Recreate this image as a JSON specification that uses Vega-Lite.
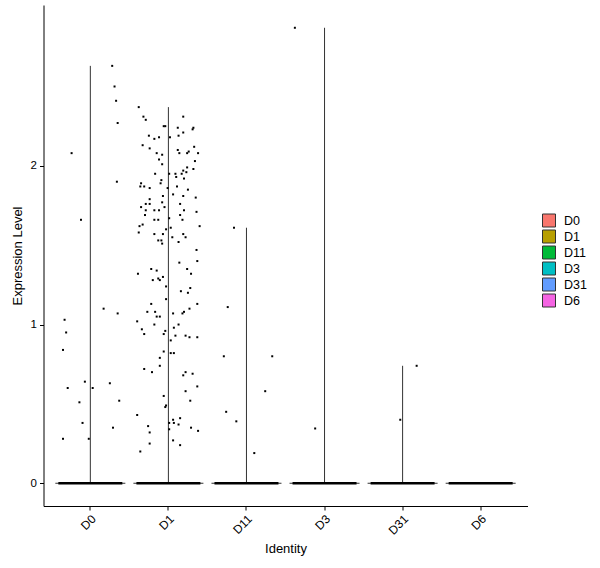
{
  "$schema": "https://vega.github.io/schema/vega-lite/v6.json",
  "width": 484,
  "height": 501,
  "autosize": "none",
  "padding": {"left": 43.5, "top": 5, "right": 72.5, "bottom": 62},
  "datasets": {
    "summary": [
      {"ident": "D0", "max": 2.63},
      {"ident": "D1", "max": 2.37},
      {"ident": "D11", "max": 1.61},
      {"ident": "D3", "max": 2.87},
      {"ident": "D31", "max": 0.74},
      {"ident": "D6", "max": 0}
    ],
    "cells": [
      {"ident": "D0", "value": 2.63, "jitter": 0.28},
      {"ident": "D0", "value": 2.50, "jitter": 0.31},
      {"ident": "D0", "value": 2.41, "jitter": 0.33},
      {"ident": "D0", "value": 2.27, "jitter": 0.35},
      {"ident": "D0", "value": 2.08, "jitter": -0.24},
      {"ident": "D0", "value": 1.90, "jitter": 0.34},
      {"ident": "D0", "value": 1.66, "jitter": -0.12},
      {"ident": "D0", "value": 1.10, "jitter": 0.17},
      {"ident": "D0", "value": 1.07, "jitter": 0.35},
      {"ident": "D0", "value": 1.03, "jitter": -0.33},
      {"ident": "D0", "value": 0.95, "jitter": -0.31},
      {"ident": "D0", "value": 0.84, "jitter": -0.35},
      {"ident": "D0", "value": 0.64, "jitter": -0.07},
      {"ident": "D0", "value": 0.60, "jitter": -0.29},
      {"ident": "D0", "value": 0.60, "jitter": 0.03},
      {"ident": "D0", "value": 0.63, "jitter": 0.25},
      {"ident": "D0", "value": 0.51, "jitter": -0.14},
      {"ident": "D0", "value": 0.52, "jitter": 0.37},
      {"ident": "D0", "value": 0.38, "jitter": -0.10},
      {"ident": "D0", "value": 0.35, "jitter": 0.29},
      {"ident": "D0", "value": 0.28, "jitter": -0.35},
      {"ident": "D0", "value": 0.28, "jitter": -0.02},
      {"ident": "D1", "value": 2.37, "jitter": -0.38},
      {"ident": "D1", "value": 2.31, "jitter": -0.32},
      {"ident": "D1", "value": 2.29, "jitter": -0.29},
      {"ident": "D1", "value": 2.31, "jitter": 0.19},
      {"ident": "D1", "value": 2.25, "jitter": -0.06},
      {"ident": "D1", "value": 2.25, "jitter": -0.04},
      {"ident": "D1", "value": 2.24, "jitter": 0.12},
      {"ident": "D1", "value": 2.24, "jitter": 0.32},
      {"ident": "D1", "value": 2.23, "jitter": 0.31},
      {"ident": "D1", "value": 2.21, "jitter": 0.19},
      {"ident": "D1", "value": 2.19, "jitter": 0.13},
      {"ident": "D1", "value": 2.19, "jitter": -0.25},
      {"ident": "D1", "value": 2.17, "jitter": -0.18},
      {"ident": "D1", "value": 2.18, "jitter": -0.12},
      {"ident": "D1", "value": 2.18, "jitter": 0.02},
      {"ident": "D1", "value": 2.13, "jitter": -0.33},
      {"ident": "D1", "value": 2.11, "jitter": -0.24},
      {"ident": "D1", "value": 2.10, "jitter": 0.12},
      {"ident": "D1", "value": 2.08, "jitter": 0.14},
      {"ident": "D1", "value": 2.09, "jitter": 0.26},
      {"ident": "D1", "value": 2.08, "jitter": 0.24},
      {"ident": "D1", "value": 2.12, "jitter": 0.33},
      {"ident": "D1", "value": 2.08, "jitter": 0.38},
      {"ident": "D1", "value": 2.08, "jitter": -0.15},
      {"ident": "D1", "value": 2.07, "jitter": -0.08},
      {"ident": "D1", "value": 2.04, "jitter": -0.12},
      {"ident": "D1", "value": 2.03, "jitter": 0.34},
      {"ident": "D1", "value": 2.01, "jitter": -0.08},
      {"ident": "D1", "value": 1.99, "jitter": 0.24},
      {"ident": "D1", "value": 1.98, "jitter": 0.32},
      {"ident": "D1", "value": 1.97, "jitter": 0.19},
      {"ident": "D1", "value": 1.96, "jitter": 0.23},
      {"ident": "D1", "value": 1.95, "jitter": -0.17},
      {"ident": "D1", "value": 1.95, "jitter": 0.01},
      {"ident": "D1", "value": 1.95, "jitter": 0.09},
      {"ident": "D1", "value": 1.95, "jitter": 0.17},
      {"ident": "D1", "value": 1.93, "jitter": 0.10},
      {"ident": "D1", "value": 1.92, "jitter": 0.20},
      {"ident": "D1", "value": 1.91, "jitter": -0.09},
      {"ident": "D1", "value": 1.89, "jitter": -0.10},
      {"ident": "D1", "value": 1.89, "jitter": -0.35},
      {"ident": "D1", "value": 1.87, "jitter": -0.36},
      {"ident": "D1", "value": 1.87, "jitter": -0.31},
      {"ident": "D1", "value": 1.86, "jitter": -0.24},
      {"ident": "D1", "value": 1.86, "jitter": -0.01},
      {"ident": "D1", "value": 1.87, "jitter": 0.11},
      {"ident": "D1", "value": 1.85, "jitter": 0.25},
      {"ident": "D1", "value": 1.82, "jitter": 0.06},
      {"ident": "D1", "value": 1.81, "jitter": -0.07},
      {"ident": "D1", "value": 1.81, "jitter": 0.19},
      {"ident": "D1", "value": 1.80, "jitter": 0.35},
      {"ident": "D1", "value": 1.79, "jitter": -0.24},
      {"ident": "D1", "value": 1.77, "jitter": -0.08},
      {"ident": "D1", "value": 1.76, "jitter": -0.29},
      {"ident": "D1", "value": 1.76, "jitter": -0.24},
      {"ident": "D1", "value": 1.76, "jitter": 0.15},
      {"ident": "D1", "value": 1.74, "jitter": -0.35},
      {"ident": "D1", "value": 1.74, "jitter": -0.05},
      {"ident": "D1", "value": 1.72, "jitter": -0.29},
      {"ident": "D1", "value": 1.72, "jitter": -0.18},
      {"ident": "D1", "value": 1.72, "jitter": -0.12},
      {"ident": "D1", "value": 1.72, "jitter": 0.20},
      {"ident": "D1", "value": 1.71, "jitter": 0.36},
      {"ident": "D1", "value": 1.69, "jitter": -0.30},
      {"ident": "D1", "value": 1.69, "jitter": 0.15},
      {"ident": "D1", "value": 1.67, "jitter": 0.01},
      {"ident": "D1", "value": 1.66, "jitter": -0.18},
      {"ident": "D1", "value": 1.66, "jitter": -0.13},
      {"ident": "D1", "value": 1.66, "jitter": 0.18},
      {"ident": "D1", "value": 1.63, "jitter": -0.33},
      {"ident": "D1", "value": 1.62, "jitter": -0.37},
      {"ident": "D1", "value": 1.60, "jitter": -0.03},
      {"ident": "D1", "value": 1.61, "jitter": 0.03},
      {"ident": "D1", "value": 1.62, "jitter": 0.40},
      {"ident": "D1", "value": 1.58, "jitter": -0.38},
      {"ident": "D1", "value": 1.57, "jitter": -0.18},
      {"ident": "D1", "value": 1.57, "jitter": -0.07},
      {"ident": "D1", "value": 1.57, "jitter": 0.19},
      {"ident": "D1", "value": 1.55, "jitter": 0.22},
      {"ident": "D1", "value": 1.55, "jitter": 0.05},
      {"ident": "D1", "value": 1.53, "jitter": -0.13},
      {"ident": "D1", "value": 1.53, "jitter": -0.09},
      {"ident": "D1", "value": 1.51, "jitter": -0.08},
      {"ident": "D1", "value": 1.52, "jitter": 0.13},
      {"ident": "D1", "value": 1.47, "jitter": 0.36},
      {"ident": "D1", "value": 1.40, "jitter": 0.37},
      {"ident": "D1", "value": 1.39, "jitter": 0.14},
      {"ident": "D1", "value": 1.35, "jitter": -0.22},
      {"ident": "D1", "value": 1.34, "jitter": -0.15},
      {"ident": "D1", "value": 1.35, "jitter": 0.24},
      {"ident": "D1", "value": 1.32, "jitter": 0.29},
      {"ident": "D1", "value": 1.32, "jitter": -0.39},
      {"ident": "D1", "value": 1.30, "jitter": -0.07},
      {"ident": "D1", "value": 1.29, "jitter": -0.13},
      {"ident": "D1", "value": 1.28, "jitter": -0.11},
      {"ident": "D1", "value": 1.28, "jitter": -0.20},
      {"ident": "D1", "value": 1.24, "jitter": -0.03},
      {"ident": "D1", "value": 1.23, "jitter": 0.28},
      {"ident": "D1", "value": 1.21, "jitter": 0.16},
      {"ident": "D1", "value": 1.20, "jitter": 0.25},
      {"ident": "D1", "value": 1.16, "jitter": -0.03},
      {"ident": "D1", "value": 1.13, "jitter": 0.37},
      {"ident": "D1", "value": 1.13, "jitter": -0.22},
      {"ident": "D1", "value": 1.10, "jitter": 0.27},
      {"ident": "D1", "value": 1.08, "jitter": -0.27},
      {"ident": "D1", "value": 1.08, "jitter": -0.17},
      {"ident": "D1", "value": 1.08, "jitter": 0.20},
      {"ident": "D1", "value": 1.07, "jitter": 0.06},
      {"ident": "D1", "value": 1.07, "jitter": 0.18},
      {"ident": "D1", "value": 1.05, "jitter": -0.15},
      {"ident": "D1", "value": 1.05, "jitter": -0.11},
      {"ident": "D1", "value": 1.02, "jitter": -0.40},
      {"ident": "D1", "value": 1.00, "jitter": 0.13},
      {"ident": "D1", "value": 1.00, "jitter": -0.18},
      {"ident": "D1", "value": 0.98, "jitter": 0.07},
      {"ident": "D1", "value": 0.97, "jitter": -0.34},
      {"ident": "D1", "value": 0.96, "jitter": -0.04},
      {"ident": "D1", "value": 0.94, "jitter": -0.31},
      {"ident": "D1", "value": 0.94, "jitter": -0.06},
      {"ident": "D1", "value": 0.93, "jitter": 0.09},
      {"ident": "D1", "value": 0.93, "jitter": 0.22},
      {"ident": "D1", "value": 0.92, "jitter": 0.27},
      {"ident": "D1", "value": 0.92, "jitter": 0.37},
      {"ident": "D1", "value": 0.90, "jitter": 0.03},
      {"ident": "D1", "value": 0.83, "jitter": -0.06},
      {"ident": "D1", "value": 0.82, "jitter": 0.03},
      {"ident": "D1", "value": 0.82, "jitter": 0.07},
      {"ident": "D1", "value": 0.79, "jitter": -0.11},
      {"ident": "D1", "value": 0.72, "jitter": -0.31},
      {"ident": "D1", "value": 0.74, "jitter": -0.11},
      {"ident": "D1", "value": 0.70, "jitter": -0.21},
      {"ident": "D1", "value": 0.70, "jitter": 0.22},
      {"ident": "D1", "value": 0.68, "jitter": 0.19},
      {"ident": "D1", "value": 0.69, "jitter": 0.31},
      {"ident": "D1", "value": 0.61, "jitter": 0.37},
      {"ident": "D1", "value": 0.58, "jitter": 0.22},
      {"ident": "D1", "value": 0.55, "jitter": -0.06},
      {"ident": "D1", "value": 0.52, "jitter": 0.28},
      {"ident": "D1", "value": 0.49, "jitter": -0.03},
      {"ident": "D1", "value": 0.48, "jitter": -0.04},
      {"ident": "D1", "value": 0.43, "jitter": -0.40},
      {"ident": "D1", "value": 0.40, "jitter": 0.06},
      {"ident": "D1", "value": 0.41, "jitter": 0.15},
      {"ident": "D1", "value": 0.38, "jitter": 0.01},
      {"ident": "D1", "value": 0.38, "jitter": 0.07},
      {"ident": "D1", "value": 0.37, "jitter": 0.13},
      {"ident": "D1", "value": 0.36, "jitter": -0.26},
      {"ident": "D1", "value": 0.35, "jitter": 0.29},
      {"ident": "D1", "value": 0.34, "jitter": 0.01},
      {"ident": "D1", "value": 0.33, "jitter": 0.38},
      {"ident": "D1", "value": 0.32, "jitter": -0.24},
      {"ident": "D1", "value": 0.27, "jitter": 0.06},
      {"ident": "D1", "value": 0.25, "jitter": -0.24},
      {"ident": "D1", "value": 0.24, "jitter": 0.15},
      {"ident": "D1", "value": 0.20, "jitter": -0.36},
      {"ident": "D11", "value": 1.61, "jitter": -0.16},
      {"ident": "D11", "value": 1.11, "jitter": -0.24},
      {"ident": "D11", "value": 0.80, "jitter": -0.29},
      {"ident": "D11", "value": 0.80, "jitter": 0.33},
      {"ident": "D11", "value": 0.58, "jitter": 0.24},
      {"ident": "D11", "value": 0.45, "jitter": -0.26},
      {"ident": "D11", "value": 0.39, "jitter": -0.13},
      {"ident": "D11", "value": 0.19, "jitter": 0.10},
      {"ident": "D3", "value": 2.87, "jitter": -0.38},
      {"ident": "D3", "value": 0.345, "jitter": -0.12},
      {"ident": "D31", "value": 0.74, "jitter": 0.18},
      {"ident": "D31", "value": 0.40, "jitter": -0.03}
    ]
  },
  "layer": [
    {
      "data": {"name": "summary"},
      "mark": {"type": "bar", "size": 0.2, "strokeWidth": 0, "opacity": 0},
      "encoding": {
        "x": {"field": "ident", "type": "nominal"},
        "y": {"field": "max", "type": "quantitative"},
        "fill": {
          "field": "ident",
          "type": "nominal",
          "title": null,
          "scale": {
            "domain": ["D0", "D1", "D11", "D3", "D31", "D6"],
            "range": ["#F8766D", "#B79F00", "#00BA38", "#00BFC4", "#619CFF", "#F564E3"]
          },
          "legend": {
            "orient": "none",
            "legendX": 498.5,
            "legendY": 208.5,
            "symbolType": "square",
            "symbolSize": 169,
            "symbolStrokeColor": "#333333",
            "symbolStrokeWidth": 1,
            "symbolOpacity": 1,
            "labelFont": "Liberation Sans",
            "labelFontSize": 12.5,
            "labelColor": "black",
            "labelOffset": 8,
            "rowPadding": -5,
            "padding": 0
          }
        }
      }
    },
    {
      "data": {"name": "summary"},
      "mark": {"type": "rule", "color": "#333333", "strokeWidth": 1},
      "encoding": {
        "x": {"field": "ident", "type": "nominal"},
        "y": {"field": "max", "type": "quantitative"},
        "y2": {"datum": 0}
      }
    },
    {
      "data": {"name": "summary"},
      "mark": {"type": "tick", "color": "#333333", "size": 70, "thickness": 1, "opacity": 1},
      "encoding": {
        "x": {"field": "ident", "type": "nominal"},
        "y": {"datum": 0}
      }
    },
    {
      "data": {"name": "summary"},
      "mark": {"type": "tick", "color": "black", "size": 64, "thickness": 2.5, "opacity": 1},
      "encoding": {
        "x": {"field": "ident", "type": "nominal"},
        "y": {"datum": 0}
      }
    },
    {
      "data": {"name": "cells"},
      "mark": {"type": "point", "shape": "square", "filled": true, "size": 4, "color": "black", "opacity": 1},
      "encoding": {
        "x": {"field": "ident", "type": "nominal"},
        "xOffset": {"field": "jitter", "type": "quantitative", "scale": {"domain": [-0.5, 0.5]}},
        "y": {"field": "value", "type": "quantitative"}
      }
    }
  ],
  "encoding": {
    "x": {
      "field": "ident",
      "type": "nominal",
      "title": "Identity",
      "scale": {"domain": ["D0", "D1", "D11", "D3", "D31", "D6"], "paddingInner": 0, "paddingOuter": 0.1},
      "axis": {"labelAngle": -45, "labelAlign": "right", "labelBaseline": "top", "labelFontSize": 12, "titlePadding": 6}
    },
    "y": {
      "type": "quantitative",
      "title": "Expression Level",
      "scale": {"domain": [-0.1435, 3.0135], "nice": false, "zero": false},
      "axis": {"values": [0, 1, 2], "titlePadding": 6}
    }
  },
  "config": {
    "view": {"stroke": null},
    "font": "Liberation Sans",
    "axis": {
      "grid": false,
      "domainColor": "black",
      "domainWidth": 1,
      "tickColor": "black",
      "tickSize": 4,
      "tickWidth": 1,
      "labelColor": "black",
      "labelFont": "Liberation Sans",
      "labelFontSize": 11.5,
      "labelPadding": 3,
      "titleFont": "Liberation Sans",
      "titleFontSize": 13,
      "titleFontWeight": "normal",
      "titleColor": "black"
    }
  }
}
